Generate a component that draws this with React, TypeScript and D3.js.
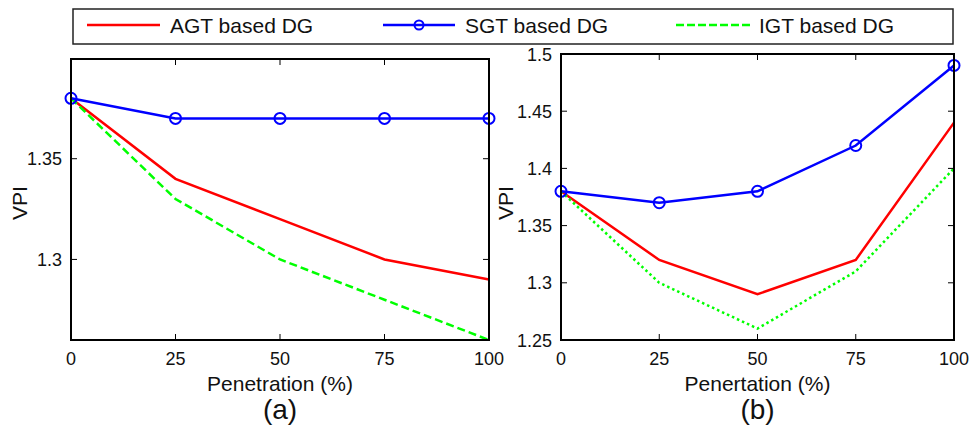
import React from 'react';
import * as d3 from 'd3';

const penetration = [0, 25, 50, 75, 100];

// panel (a)
const agtA = [1.38, 1.34, 1.32, 1.30, 1.29];
const sgtA = [1.38, 1.37, 1.37, 1.37, 1.37];
const igtA = [1.38, 1.33, 1.30, 1.28, 1.26];
const yTicksA = [1.3, 1.35];

// panel (b)
const agtB = [1.38, 1.32, 1.29, 1.32, 1.44];
const sgtB = [1.38, 1.37, 1.38, 1.42, 1.49];
const igtB = [1.38, 1.30, 1.26, 1.31, 1.40];
const yTicksB = [1.25, 1.3, 1.35, 1.4, 1.45, 1.5];

const xTicks = [0, 25, 50, 75, 100];
const legendNames = ['AGT based DG', 'SGT based DG', 'IGT based DG'];

const W = 971;
const H = 429;
const font = 'Arial, "Liberation Sans", Helvetica, sans-serif';
const RED = '#ff0000';
const BLUE = '#0000ff';
const GREEN = '#00ff00';

type PanelProps = {
  left: number; right: number; top: number; bottom: number;
  yDomain: [number, number]; yTicks: number[];
  agt: number[]; sgt: number[]; igt: number[];
  igtDash: string; xLabel: string; tag: string;
};

function Panel(p: PanelProps) {
  const x = d3.scaleLinear().domain([0, 100]).range([p.left, p.right]);
  const y = d3.scaleLinear().domain(p.yDomain).range([p.bottom, p.top]);
  const line = d3.line<number>().x((_, i) => x(penetration[i])).y(d => y(d));
  const tl = 6;
  const cx = (p.left + p.right) / 2;
  const fmt = (v: number) => String(+v.toFixed(2));
  return (
    <g>
      <rect x={p.left} y={p.top} width={p.right - p.left} height={p.bottom - p.top}
        fill="white" stroke="none" />
      <path d={line(p.agt) || ''} fill="none" stroke={RED} strokeWidth={2.5} />
      <path d={line(p.igt) || ''} fill="none" stroke={GREEN} strokeWidth={2.5}
        strokeDasharray={p.igtDash} />
      <path d={line(p.sgt) || ''} fill="none" stroke={BLUE} strokeWidth={2.5} />
      {p.sgt.map((v, i) => (
        <circle key={i} cx={x(penetration[i])} cy={y(v)} r={5.5} fill="none"
          stroke={BLUE} strokeWidth={2} />
      ))}
      {xTicks.map(t => (
        <g key={'x' + t}>
          <line x1={x(t)} x2={x(t)} y1={p.bottom} y2={p.bottom - tl} stroke="black" strokeWidth={1} />
          <line x1={x(t)} x2={x(t)} y1={p.top} y2={p.top + tl} stroke="black" strokeWidth={1} />
          <text x={x(t)} y={p.bottom + 25} textAnchor="middle" fontSize={18}
            fontFamily={font} fill="#111">{t}</text>
        </g>
      ))}
      {p.yTicks.map(t => (
        <g key={'y' + t}>
          <line x1={p.left} x2={p.left + tl} y1={y(t)} y2={y(t)} stroke="black" strokeWidth={1} />
          <line x1={p.right} x2={p.right - tl} y1={y(t)} y2={y(t)} stroke="black" strokeWidth={1} />
          <text x={p.left - 9} y={y(t) + 6.5} textAnchor="end" fontSize={18}
            fontFamily={font} fill="#111">{fmt(t)}</text>
        </g>
      ))}
      <rect x={p.left} y={p.top} width={p.right - p.left} height={p.bottom - p.top}
        fill="none" stroke="black" strokeWidth={2} />
      <text x={cx} y={p.bottom + 51} textAnchor="middle" fontSize={21}
        fontFamily={font} fill="#111">{p.xLabel}</text>
      <text x={cx} y={p.bottom + 79} textAnchor="middle" fontSize={28}
        fontFamily={font} fill="#111">{p.tag}</text>
    </g>
  );
}

export default function App() {
  const legendY = 25;
  const items = [
    { name: legendNames[0], x1: 87, x2: 160, tx: 170, color: RED, dash: undefined as string | undefined, marker: false },
    { name: legendNames[1], x1: 383, x2: 455, tx: 465, color: BLUE, dash: undefined, marker: true },
    { name: legendNames[2], x1: 676, x2: 750, tx: 759, color: GREEN, dash: '8,3', marker: false },
  ];
  return (
    <svg width={W} height={H} style={{ position: 'absolute', left: 0, top: 0, background: 'white' }}>
      <rect width={W} height={H} fill="white" />
      <Panel left={71} right={489} top={59} bottom={340} yDomain={[1.26, 1.3995]}
        yTicks={yTicksA} agt={agtA} sgt={sgtA} igt={igtA} igtDash="8,4"
        xLabel="Penetration (%)" tag="(a)" />
      <Panel left={561} right={954} top={54} bottom={340} yDomain={[1.25, 1.5]}
        yTicks={yTicksB} agt={agtB} sgt={sgtB} igt={igtB} igtDash="2.5,3"
        xLabel="Penertation (%)" tag="(b)" />
      <text transform="translate(27,203) rotate(-90)" textAnchor="middle" fontSize={21}
        fontFamily={font} fill="#111">VPI</text>
      <text transform="translate(513,203) rotate(-90)" textAnchor="middle" fontSize={21}
        fontFamily={font} fill="#111">VPI</text>
      <rect x={73} y={9} width={880} height={35} fill="white" stroke="#222" strokeWidth={1.5} />
      {items.map(it => (
        <g key={it.name}>
          <line x1={it.x1} x2={it.x2} y1={legendY} y2={legendY} stroke={it.color}
            strokeWidth={2.5} strokeDasharray={it.dash} />
          {it.marker && (
            <circle cx={(it.x1 + it.x2) / 2} cy={legendY} r={4.5} fill="none"
              stroke={it.color} strokeWidth={2} />
          )}
          <text x={it.tx} y={legendY + 8} fontSize={21} fontFamily={font} fill="#111">{it.name}</text>
        </g>
      ))}
    </svg>
  );
}
